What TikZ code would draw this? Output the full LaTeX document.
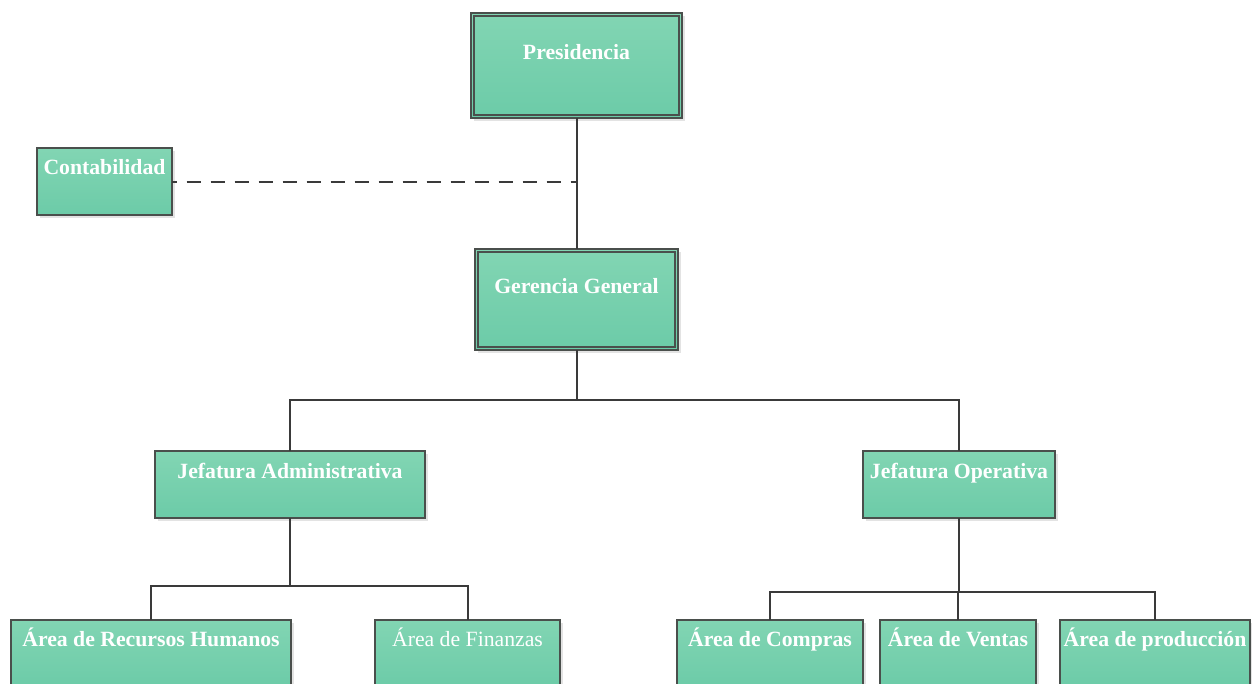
\documentclass[tikz,border=0pt]{standalone}
\usepackage{fontspec}
\setmainfont{Liberation Serif}
\usetikzlibrary{calc,shadows}
\definecolor{boxtop}{HTML}{82D5B3}
\definecolor{boxbot}{HTML}{6CCBA8}
\definecolor{edge}{HTML}{4A4F4C}
\definecolor{wire}{HTML}{3A3A3A}
\begin{document}
\begin{tikzpicture}[x=0.75pt,y=-0.75pt,
  sz/.style 2 args={minimum width=#1*0.75pt, minimum height=#2*0.75pt},
  unit/.style={rectangle, inner sep=0pt, outer sep=0pt, draw=edge, line width=0.8pt,
    top color=boxtop, bottom color=boxbot,
    drop shadow={shadow xshift=2.5pt, shadow yshift=-2.5pt, fill=black!18, opacity=0.6}},
  caption/.style={anchor=base, text=white, font=\fontsize{16.3}{19}\selectfont\bfseries, inner sep=0pt},
  plaincaption/.style={caption, font=\fontsize{16.3}{19}\selectfont},
  wirestyle/.style={draw=wire, line width=1.5pt},
  inner/.style={draw=edge, line width=0.8pt}]
\clip (0,0) rectangle (1252,683);
\fill[white] (0,0) rectangle (1252,683);

% boxes
\node[unit, sz={211}{105}] (P)  at (576.5,65.5) {};
\node[unit, sz={135}{67}]  (C)  at (104.5,181.5) {};
\node[unit, sz={203}{101}] (G)  at (576.5,299.5) {};
\node[unit, sz={270}{67}]  (JA) at (290,484.5) {};
\node[unit, sz={192}{67}]  (JO) at (959,484.5) {};
\node[unit, sz={280}{67}]  (RH) at (151,653.5) {};
\node[unit, sz={185}{67}]  (FI) at (467.5,653.5) {};
\node[unit, sz={186}{67}]  (CO) at (770,653.5) {};
\node[unit, sz={156}{67}]  (VE) at (958,653.5) {};
\node[unit, sz={190}{67}]  (PR) at (1155,653.5) {};

% inner frame of the two top-level boxes
\draw[inner] ([shift={(3,3)}]P.north west) rectangle ([shift={(-3,-3)}]P.south east);
\draw[inner] ([shift={(3,3)}]G.north west) rectangle ([shift={(-3,-3)}]G.south east);

% captions
\node[caption] (tP)  at ($(P.north)+(0,46)$)  {Presidencia};
\node[caption] (tC)  at ($(C.north)+(0,26)$)  {Contabilidad};
\node[caption] (tG)  at ($(G.north)+(0,44)$)  {Gerencia General};
\node[caption] (tJA) at ($(JA.north)+(0,27)$) {Jefatura Administrativa};
\node[caption] (tJO) at ($(JO.north)+(0,27)$) {Jefatura Operativa};
\node[caption] (tRH) at ($(RH.north)+(0,26)$) {Área de Recursos Humanos};
\node[plaincaption] (tFI) at ($(FI.north)+(0,26)$) {Área de Finanzas};
\node[caption] (tCO) at ($(CO.north)+(0,26)$) {Área de Compras};
\node[caption] (tVE) at ($(VE.north)+(0,26)$) {Área de Ventas};
\node[caption] (tPR) at ($(PR.north)+(0,26)$) {Área de producción};

% connectors
\draw[wirestyle] (P.south) -- (G.north);
\coordinate (dashend) at (C.east -| P.south);
\draw[wirestyle, dash pattern=on 11pt off 7pt, dash phase=7pt] (C.east) -- (dashend);

\coordinate (busG) at ($(G.south)+(0,50)$);
\draw[wirestyle] (G.south) -- (busG) -| (JA.north);
\draw[wirestyle] (busG) -| (JO.north);

\coordinate (busA) at ($(JA.south)+(0,68)$);
\draw[wirestyle] (JA.south) -- (busA) -| (RH.north);
\draw[wirestyle] (busA) -| (FI.north);

\coordinate (busO) at ($(JO.south)+(0,74)$);
\draw[wirestyle] (JO.south) -- (busO) -| (CO.north);
\draw[wirestyle] (busO) -| (PR.north);
\draw[wirestyle] (VE.north) |- (busO);
\end{tikzpicture}
\end{document}
